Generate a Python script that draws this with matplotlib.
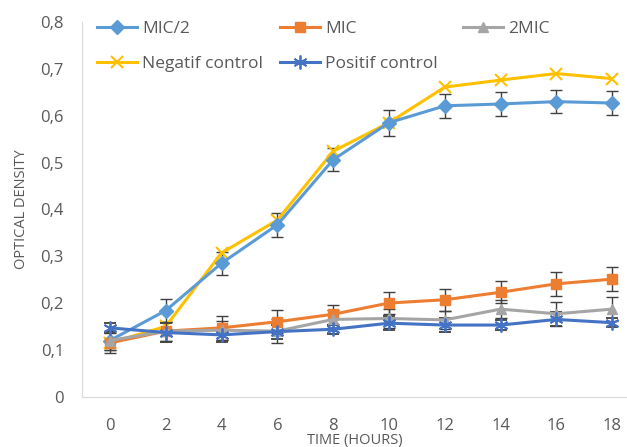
import matplotlib
matplotlib.use("Agg")
import matplotlib.pyplot as plt
from matplotlib.lines import Line2D
from matplotlib.ticker import FuncFormatter

plt.rcParams['font.family'] = ['Open Sans', 'DejaVu Sans']

hours = [0, 2, 4, 6, 8, 10, 12, 14, 16, 18]

mic_half = [0.120, 0.184, 0.285, 0.367, 0.506, 0.585, 0.621, 0.625, 0.630, 0.627]
mic_half_err = [0.020, 0.025, 0.025, 0.025, 0.025, 0.028, 0.025, 0.025, 0.025, 0.025]

mic = [0.115, 0.140, 0.147, 0.160, 0.176, 0.200, 0.207, 0.223, 0.241, 0.251]
mic_err = [0.022, 0.020, 0.025, 0.025, 0.020, 0.023, 0.023, 0.023, 0.025, 0.025]

mic2 = [0.120, 0.140, 0.142, 0.140, 0.165, 0.167, 0.164, 0.187, 0.177, 0.187]
mic2_err = [0.020, 0.020, 0.020, 0.025, 0.020, 0.020, 0.020, 0.020, 0.025, 0.025]

neg_ctrl = [0.115, 0.150, 0.307, 0.377, 0.524, 0.585, 0.661, 0.676, 0.690, 0.679]

pos_ctrl = [0.147, 0.137, 0.132, 0.139, 0.144, 0.157, 0.153, 0.153, 0.165, 0.158]
pos_ctrl_err = [0.010, 0.020, 0.015, 0.015, 0.010, 0.015, 0.015, 0.010, 0.015, 0.010]

y_ticks = [0, 0.1, 0.2, 0.3, 0.4, 0.5, 0.6, 0.7, 0.8]

# stile per serie: colore, marker, size
styles = {
    'MIC/2': dict(color='#5B9BD5', marker='D', ms=7),
    'MIC': dict(color='#ED7D31', marker='s', ms=7),
    '2MIC': dict(color='#A5A5A5', marker='^', ms=7),
    'Negatif control': dict(color='#FFC000', marker='x', ms=9, mew=1.5),
    'Positif control': dict(color='#4472C4', marker=(6, 2, 0), ms=10, mew=1.3),
}

fig = plt.figure(figsize=(6.27, 4.47), dpi=100)
ax = fig.add_axes([0.1308, 0.1125, 0.8692, 0.8383])

err_kw = dict(ecolor='#404040', elinewidth=1.0, capsize=4, capthick=1.0)

ax.errorbar(hours, mic_half, yerr=mic_half_err, lw=2.2, **styles['MIC/2'], **err_kw)
ax.errorbar(hours, mic, yerr=mic_err, lw=2.2, **styles['MIC'], **err_kw)
ax.errorbar(hours, mic2, yerr=mic2_err, lw=2.2, **styles['2MIC'], **err_kw)
ax.plot(hours, neg_ctrl, lw=2.2, **styles['Negatif control'])
ax.errorbar(hours, pos_ctrl, yerr=pos_ctrl_err, lw=2.2, **styles['Positif control'], **err_kw)

ax.set_xlim(-1, 18.53)
ax.set_ylim(0, 0.8)
ax.set_xticks(hours)
ax.set_yticks(y_ticks)
ax.yaxis.set_major_formatter(FuncFormatter(
    lambda v, p: '0' if v == 0 else ('%.1f' % v).replace('.', ',')))

for s in ['top', 'right']:
    ax.spines[s].set_visible(False)
ax.spines['left'].set_color('#D9D9D9')
ax.spines['bottom'].set_color('#D9D9D9')
ax.tick_params(length=0, colors='#595959', labelsize=12)
ax.tick_params(axis='y', pad=13)
ax.tick_params(axis='x', pad=15)

ax.set_ylabel('OPTICAL DENSITY', fontsize=10.5, color='#595959', labelpad=8)
ax.set_xlabel('TIME (HOURS)', fontsize=10.5, color='#595959')
ax.xaxis.set_label_coords(0.5, -0.098)

# legenda: tre colonne posizionate a mano come in Excel
columns = [(97, ['MIC/2', 'Negatif control']),
           (280, ['MIC', 'Positif control']),
           (463, ['2MIC'])]
for x_px, names in columns:
    hs = [Line2D([], [], lw=2.2, **styles[n]) for n in names]
    fig.legend(hs, names, loc='upper left',
               bbox_to_anchor=(x_px / 627, 1 - 21 / 447),
               frameon=False, fontsize=12.5, labelcolor='#595959',
               handlelength=2.3, handletextpad=0.3, labelspacing=1.1,
               borderpad=0, borderaxespad=0)

fig.savefig('out.png', dpi=100)
